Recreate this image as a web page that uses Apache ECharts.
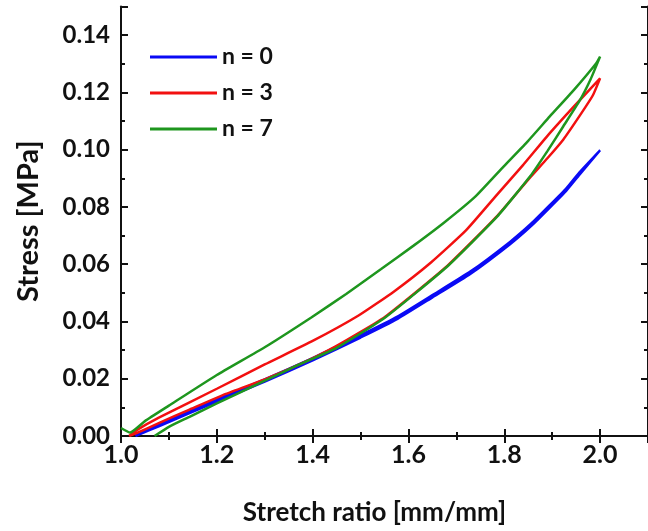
<!DOCTYPE html>
<html>
<head>
<meta charset="utf-8">
<script src="https://cdn.jsdelivr.net/npm/echarts@6/dist/echarts.min.js"></script>
<style>
  html, body { margin: 0; padding: 0; background: #fff; }
  #chart { width: 648px; height: 531px; }
</style>
</head>
<body>
<div id="chart"></div>
<script>
// legend labels
const seriesNames = ['n = 0', 'n = 3', 'n = 7']
const seriesColors = ['#0A0AF5', '#F21010', '#1E961E']

// [stretch ratio, stress MPa], loading then unloading
const loopN0 = [
  [1.03, 0.0004], [1.08, 0.0042], [1.143, 0.0088], [1.2, 0.0128], [1.3, 0.0198],
  [1.4, 0.0272], [1.5, 0.0352], [1.578, 0.0418], [1.65, 0.0492], [1.729, 0.0574],
  [1.812, 0.0678], [1.857, 0.0743], [1.895, 0.0806], [1.93, 0.0866], [1.957, 0.0921], [2.0, 0.0998],
  [1.957, 0.0913], [1.93, 0.0858], [1.895, 0.0798], [1.857, 0.0735], [1.812, 0.0670],
  [1.729, 0.0566], [1.65, 0.0484], [1.578, 0.0410], [1.5, 0.0344], [1.4, 0.0264],
  [1.3, 0.0190], [1.2, 0.0120], [1.143, 0.0080], [1.08, 0.0035], [1.03, 0.0]
]

const loopN3 = [
  [1.017, 0.0], [1.03, 0.0018], [1.08, 0.0065], [1.2, 0.0165], [1.3, 0.025],
  [1.4, 0.0332], [1.495, 0.042], [1.57, 0.0505], [1.647, 0.0606], [1.72, 0.0718],
  [1.785, 0.0843], [1.84, 0.0948], [1.888, 0.1044], [1.945, 0.1150], [2.0, 0.1249],
  [1.985, 0.1190], [1.96, 0.1125], [1.923, 0.1035], [1.89, 0.0970], [1.854, 0.0903],
  [1.785, 0.0768], [1.681, 0.0594], [1.55, 0.0415], [1.45, 0.0315], [1.37, 0.0248],
  [1.3, 0.0198], [1.219, 0.0147], [1.143, 0.0092], [1.08, 0.0046], [1.03, 0.0008], [1.017, 0.0]
]

const loopN7 = [
  [1.0, 0.0028], [1.019, 0.0012], [1.05, 0.0052], [1.1, 0.0106], [1.2, 0.0213],
  [1.3, 0.031], [1.398, 0.0415], [1.47, 0.0496], [1.543, 0.0583], [1.61, 0.0664],
  [1.674, 0.0745], [1.74, 0.0837], [1.799, 0.0942], [1.85, 0.1031], [1.895, 0.1116],
  [1.945, 0.1208], [1.992, 0.1302], [2.0, 0.1325],
  [1.98, 0.1245], [1.957, 0.1170], [1.923, 0.1081], [1.89, 0.0995], [1.854, 0.0907],
  [1.785, 0.0766], [1.681, 0.0592], [1.55, 0.0412], [1.45, 0.0308], [1.37, 0.0248],
  [1.3, 0.0193], [1.2, 0.0114], [1.143, 0.0067], [1.1, 0.0032], [1.07, 0.0]
]

const seriesData = [loopN0, loopN3, loopN7]

const chart = echarts.init(document.getElementById('chart'))

const labelFont = { fontFamily: 'Lato', fontWeight: 'bold', fontSize: 24, color: '#111' }
const frame = { lineStyle: { color: '#111', width: 2 } }
const ticks = { show: true, inside: true, length: 7, lineStyle: { color: '#111', width: 2 } }
const minor = { show: true, splitNumber: 2, length: 4, lineStyle: { color: '#111', width: 2 } }

const option = {
  animation: false,
  backgroundColor: '#fff',
  grid: { left: 121, top: 6.5, width: 531, height: 431 },
  legend: {
    orient: 'vertical',
    left: 150,
    top: 45.5,
    padding: 0,
    itemWidth: 67,
    itemHeight: 3,
    itemGap: 13,
    icon: 'rect',
    data: seriesNames,
    textStyle: { ...labelFont, fontSize: 23, lineHeight: 22 }
  },
  xAxis: [
    {
      type: 'value',
      min: 1.0,
      max: 2.1,
      interval: 0.2,
      name: 'Stretch ratio [mm/mm]',
      nameLocation: 'middle',
      nameGap: 64,
      nameTextStyle: { ...labelFont, fontSize: 26, padding: [0, 20, 0, 0] },
      axisLine: frame,
      axisTick: ticks,
      minorTick: minor,
      splitLine: { show: false },
      axisLabel: { ...labelFont, fontSize: 25, margin: 6, showMaxLabel: false, formatter: v => v.toFixed(1) }
    },
    {
      type: 'value',
      position: 'top',
      min: 1.0,
      max: 2.1,
      interval: 0.2,
      axisLine: frame,
      axisTick: ticks,
      minorTick: minor,
      splitLine: { show: false },
      axisLabel: { show: false }
    }
  ],
  yAxis: [
    {
      type: 'value',
      min: 0,
      max: 0.15,
      interval: 0.02,
      name: 'Stress [MPa]',
      nameLocation: 'middle',
      nameGap: 78,
      nameTextStyle: { ...labelFont, fontSize: 29 },
      axisLine: frame,
      axisTick: ticks,
      minorTick: minor,
      splitLine: { show: false },
      axisLabel: { ...labelFont, margin: 11, showMaxLabel: false, formatter: v => v.toFixed(2) }
    },
    {
      type: 'value',
      position: 'right',
      min: 0,
      max: 0.15,
      interval: 0.02,
      axisLine: frame,
      axisTick: ticks,
      minorTick: minor,
      splitLine: { show: false },
      axisLabel: { show: false }
    }
  ],
  series: seriesData.map((d, i) => ({
    name: seriesNames[i],
    type: 'line',
    data: d,
    showSymbol: false,
    smooth: 0.15,
    color: seriesColors[i],
    lineStyle: { width: 2.5, color: seriesColors[i] }
  }))
}

chart.setOption(option)
</script>
</body>
</html>
